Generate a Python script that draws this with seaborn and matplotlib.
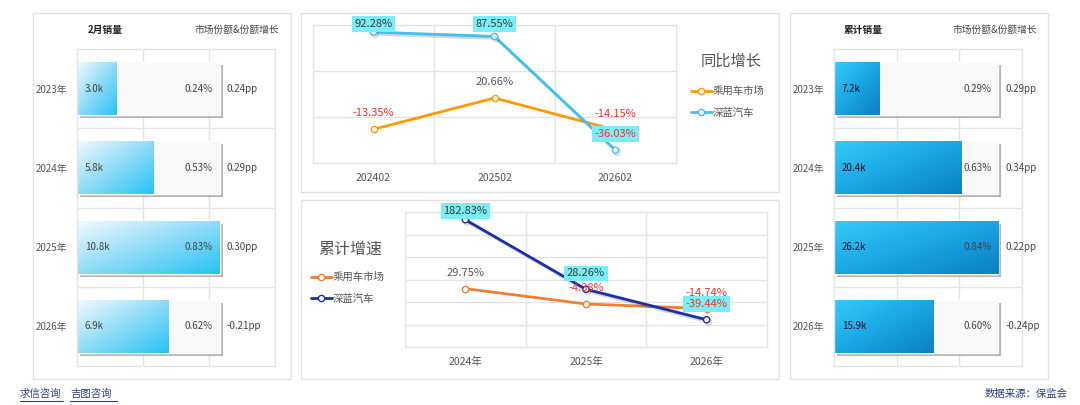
import numpy as np
import pandas as pd
import matplotlib
matplotlib.use("Agg")
import matplotlib.pyplot as plt
import seaborn as sns
from matplotlib.patches import Rectangle
from matplotlib.lines import Line2D
from matplotlib.colors import LinearSegmentedColormap
import matplotlib.patheffects as pe

# ---------------- data ----------------
years = ['2023年', '2024年', '2025年', '2026年']
feb_sales = [3.0, 5.8, 10.8, 6.9]          # k units
feb_share = [0.24, 0.53, 0.83, 0.62]        # %
feb_share_chg = [0.24, 0.29, 0.30, -0.21]   # pp
cum_sales = [7.2, 20.4, 26.2, 15.9]
cum_share = [0.29, 0.63, 0.84, 0.60]
cum_share_chg = [0.29, 0.34, 0.22, -0.24]

yoy_periods = ['202402', '202502', '202602']
yoy_market = [-13.35, 20.66, -14.15]
yoy_deepal = [92.28, 87.55, -36.03]

cum_years = ['2024年', '2025年', '2026年']
cum_market = [29.75, -4.38, -14.74]
cum_deepal = [182.83, 28.26, -39.44]

series_names = ['乘用车市场', '深蓝汽车']

# ---------------- style ----------------
sns.set_theme(style="white")
plt.rcParams['font.family'] = ['Noto Sans CJK SC', 'DejaVu Sans']
plt.rcParams['axes.unicode_minus'] = False

W, H = 1080, 405
fig = plt.figure(figsize=(W / 100, H / 100), dpi=100)
fig.patch.set_facecolor('white')

GRID = '#e4e4e4'
TXT = '#555555'
RED = '#ff2d2d'
BOXC = '#7aeef6'


def fx(px):
    return px / W


def fy(py):
    return 1 - py / H


def rect_px(x0, y0, x1, y1):
    return [fx(x0), fy(y1), fx(x1) - fx(x0), (y1 - y0) / H]


def panel_box(x0, y0, x1, y1):
    fig.add_artist(Rectangle((fx(x0), fy(y1)), fx(x1) - fx(x0), (y1 - y0) / H,
                             transform=fig.transFigure, facecolor='white',
                             edgecolor='#e2e2e2', lw=1, zorder=0))


panel_box(33, 13, 291, 379)
panel_box(301, 13, 779, 192)
panel_box(301, 200, 779, 379)
panel_box(790, 13, 1048, 379)


# ---------------- bar panels ----------------
def bar_panel(rect, values, shares, chgs, xmax, cmap, value_color, share_color):
    ax = fig.add_axes(rect)
    ax.set_facecolor('none')
    vmax = max(values)
    df = pd.DataFrame({'year': years, 'v': values, 'full': [vmax] * len(values)})
    sns.barplot(data=df, y='year', x='full', color='#f8f8f8', orient='h', width=0.67,
                saturation=1, ax=ax)
    n_bg = len(ax.patches)
    sns.barplot(data=df, y='year', x='v', color=cmap(1.0), orient='h', width=0.67,
                saturation=1, ax=ax)
    bg = ax.patches[:n_bg]
    fg = ax.patches[n_bg:]
    for p in bg:
        p.set_path_effects([pe.SimplePatchShadow(offset=(2.2, -2.2), shadow_rgbFace='#777777',
                                                 alpha=0.55), pe.Normal()])
    grad = np.add.outer(np.linspace(0, 1, 60), np.linspace(0, 1, 240)) / 2
    for p in fg:
        x0, y0 = p.get_x(), p.get_y()
        w, h = p.get_width(), p.get_height()
        im = ax.imshow(grad, cmap=cmap, extent=(x0, x0 + w, y0 + h, y0), origin='upper',
                       aspect='auto', interpolation='bilinear', zorder=2)
        im.set_clip_path(p)
    for i, (v, s, c) in enumerate(zip(values, shares, chgs)):
        ax.annotate(f'{v:.1f}k', (0, i), xytext=(5.5, 0), textcoords='offset points',
                    ha='left', va='center', fontsize=7, color=value_color, zorder=5)
        ax.annotate(f'{s:.2f}%', (vmax, i), xytext=(-5, 0), textcoords='offset points',
                    ha='right', va='center', fontsize=7, color=share_color, zorder=5)
        ax.annotate(f'{c:.2f}pp', (vmax, i), xytext=(5, 0), textcoords='offset points',
                    ha='left', va='center', fontsize=7, color='#444444', zorder=5,
                    annotation_clip=False)
    ax.set_xlim(0, xmax)
    ax.set_ylim(len(years) - 0.5, -0.5)
    ax.set_xticks([xmax / 3, 2 * xmax / 3])
    ax.set_xticklabels([])
    ax.set_yticks(range(len(years)))
    ax.set_yticklabels(years)
    ax.set_yticks([0.5, 1.5, 2.5], minor=True)
    ax.grid(True, axis='x', which='major', color=GRID, lw=1, zorder=0)
    ax.grid(True, axis='y', which='minor', color=GRID, lw=1, zorder=0)
    ax.set_axisbelow(True)
    ax.tick_params(axis='both', which='both', length=0)
    ax.tick_params(axis='y', pad=7, labelsize=7, labelcolor=TXT)
    ax.set_xlabel('')
    ax.set_ylabel('')
    for s in ax.spines.values():
        s.set_color(GRID)
        s.set_linewidth(1)
    return ax


cmap_left = LinearSegmentedColormap.from_list('l', ['#f2fbfe', '#8fdcf6', '#25c3f7'])
cmap_right = LinearSegmentedColormap.from_list('r', ['#35ccfa', '#1aa6e4', '#0a7fc4'])

bar_panel(rect_px(77, 49, 275, 366), feb_sales, feb_share, feb_share_chg, 15,
          cmap_left, '#444444', '#444444')
bar_panel(rect_px(834, 49, 1022, 366), cum_sales, cum_share, cum_share_chg, 30,
          cmap_right, '#111122', '#444444')

fig.text(fx(105), fy(30), '2月销量', ha='center', va='center', fontsize=7,
         color='#222222', fontweight='bold')
fig.text(fx(237), fy(30), '市场份额&份额增长', ha='center', va='center', fontsize=7,
         color='#444444')
fig.text(fx(863), fy(30), '累计销量', ha='center', va='center', fontsize=7,
         color='#222222', fontweight='bold')
fig.text(fx(995), fy(30), '市场份额&份额增长', ha='center', va='center', fontsize=7,
         color='#444444')


# ---------------- line panels ----------------
def label_color(v, default):
    return RED if v < 0 else default


def line_panel(rect, cats, market, deepal, ylim, yticks, c_mkt, c_dp, hpx):
    ax = fig.add_axes(rect)
    ax.set_facecolor('none')
    sns.lineplot(x=cats, y=market, sort=False, color=c_mkt, lw=2, marker='o', ms=4.5,
                 mfc='white', mec=c_mkt, mew=1, ax=ax, zorder=3)
    sns.lineplot(x=cats, y=deepal, sort=False, color=c_dp, lw=2, marker='o', ms=4.5,
                 mfc='white', mec=c_dp, mew=1, ax=ax, zorder=4,
                 path_effects=[pe.SimpleLineShadow(offset=(1.2, -1.5), alpha=0.18),
                               pe.Normal()])
    ymin, ymax = ylim
    ax.set_ylim(ymin, ymax)
    ax.set_xlim(-0.5, len(cats) - 0.5)

    def offset(v):
        f = (v - ymin) / (ymax - ymin) * hpx
        return (min(f + 16, hpx + 1) - f) * 0.72

    for i, v in enumerate(market):
        ax.annotate(f'{v:.2f}%', (i, v), xytext=(0, offset(v)), textcoords='offset points',
                    ha='center', va='center', fontsize=8, color=label_color(v, TXT), zorder=5)
    for i, v in enumerate(deepal):
        ax.annotate(f'{v:.2f}%', (i, v), xytext=(0, offset(v)), textcoords='offset points',
                    ha='center', va='center', fontsize=8, color=label_color(v, '#3a3a3a'),
                    zorder=6, annotation_clip=False,
                    bbox=dict(boxstyle='square,pad=0.25', fc=BOXC, ec='none'))
    ax.set_yticks(yticks)
    ax.set_yticklabels([])
    ax.set_xticks([0.5 + k for k in range(len(cats) - 1)], minor=True)
    ax.grid(True, axis='y', which='major', color=GRID, lw=1)
    ax.grid(True, axis='x', which='minor', color=GRID, lw=1)
    ax.set_axisbelow(True)
    ax.tick_params(axis='both', which='both', length=0)
    ax.tick_params(axis='x', pad=7, labelsize=7.5, labelcolor=TXT)
    ax.set_xlabel('')
    ax.set_ylabel('')
    if ax.get_legend() is not None:
        ax.get_legend().remove()
    for s in ax.spines.values():
        s.set_color(GRID)
        s.set_linewidth(1)
    return ax


line_panel(rect_px(313, 25, 676, 163), yoy_periods, yoy_market, yoy_deepal,
           (-50, 100), [0, 50], '#ff9a05', '#3cc2f0', 138)
line_panel(rect_px(405, 212, 767, 347), cum_years, cum_market, cum_deepal,
           (-100, 200), [-50, 0, 50, 100, 150], '#f07f32', '#1b2fa8', 135)


def legend_at(x, y, c_mkt, c_dp):
    handles = [Line2D([], [], color=c, lw=2, marker='o', ms=4.5, mfc='white', mec=c, mew=1)
               for c in (c_mkt, c_dp)]
    fig.legend(handles, series_names, loc='upper left', bbox_to_anchor=(fx(x), fy(y)),
               frameon=False, fontsize=7.5, handlelength=2.0, handletextpad=0.1,
               labelspacing=1.1, borderpad=0, borderaxespad=0, labelcolor=TXT)


fig.text(fx(731), fy(61), '同比增长', ha='center', va='center', fontsize=11, color=TXT)
legend_at(691, 86, '#ff9a05', '#3cc2f0')
fig.text(fx(350), fy(249), '累计增速', ha='center', va='center', fontsize=11.5, color=TXT)
legend_at(311, 272, '#f07f32', '#1b2fa8')

# ---------------- footer ----------------
LINK = '#2b3f7e'
fig.text(fx(20), fy(394), '求信咨询', ha='left', va='center', fontsize=7.5, color=LINK)
fig.text(fx(70), fy(394), '吉图咨询', ha='left', va='center', fontsize=7.5, color=LINK)
fig.add_artist(Line2D([fx(20), fx(63)], [fy(401), fy(401)], transform=fig.transFigure,
                      color=LINK, lw=0.8))
fig.add_artist(Line2D([fx(70), fx(117)], [fy(401), fy(401)], transform=fig.transFigure,
                      color=LINK, lw=0.8))
fig.text(fx(1068), fy(394), '数据来源：保监会', ha='right', va='center', fontsize=7.5,
         color=LINK)

fig.savefig('out.png', dpi=100, facecolor='white')
